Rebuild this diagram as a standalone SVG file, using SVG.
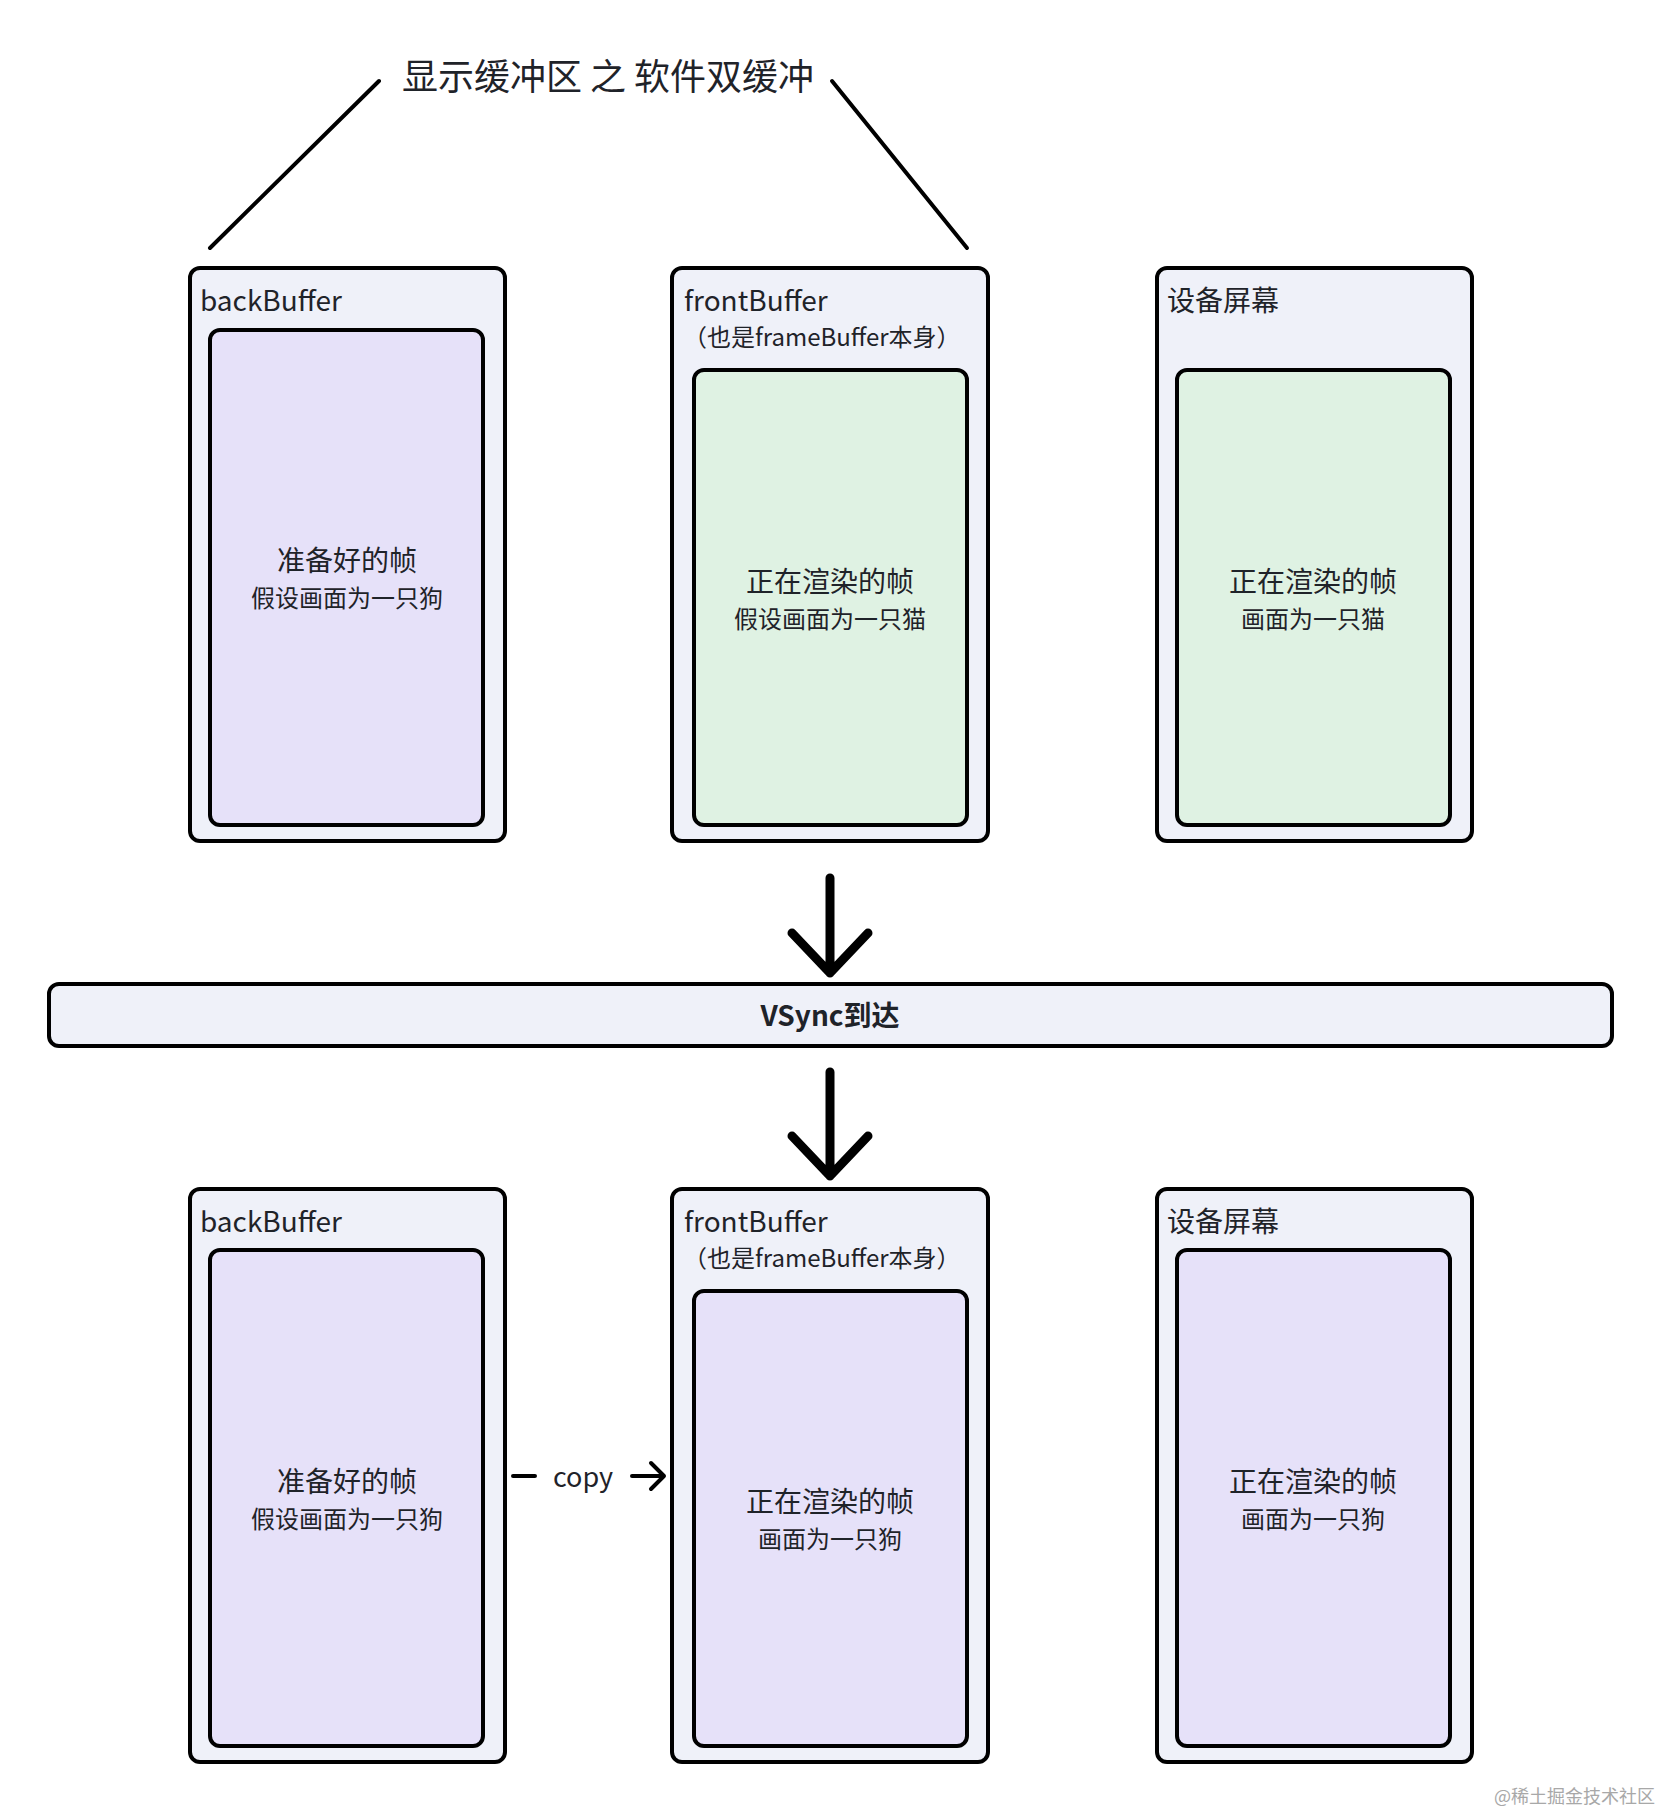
<svg xmlns="http://www.w3.org/2000/svg" width="1662" height="1814" viewBox="0 0 1662 1814">
<style>
text{font-family:"Noto Sans CJK SC","Noto Sans",sans-serif;fill:#1f2329}
.outer{fill:#eff1f9;stroke:#000;stroke-width:4}
.purple{fill:#e6e1f9;stroke:#000;stroke-width:4}
.green{fill:#dff2e3;stroke:#000;stroke-width:4}
.hdr{font-size:28px}
.sub{font-size:24px}
.l1{font-size:28px;text-anchor:middle}
.l2{font-size:24px;text-anchor:middle}
.ln{fill:none;stroke:#000;stroke-width:4;stroke-linecap:round;stroke-linejoin:round}
.big{fill:none;stroke:#000;stroke-width:9;stroke-linecap:round;stroke-linejoin:round}
</style>
<rect width="1662" height="1814" fill="#fff"/>
<g id="title">
<text x="608" y="90" font-size="36" text-anchor="middle">显示缓冲区 之 软件双缓冲</text>
</g>
<g id="connectors">
<line class="ln" x1="379" y1="81" x2="210" y2="248"/>
<line class="ln" x1="832" y1="81" x2="967" y2="248"/>
<path class="big" d="M830 878 V973 M792 933 L830 973 L868 933"/>
<path class="big" d="M830 1072 V1176 M792 1136 L830 1176 L868 1136"/>
<path class="ln" d="M513 1476 H535 M632 1476 H664 M651 1463 L664 1476 L651 1489"/>
<text x="583" y="1487" font-size="27" text-anchor="middle">copy</text>
</g>
<g id="top-back">
<rect class="outer" x="190" y="268" width="315" height="573" rx="10"/>
<text class="hdr" x="200" y="311">backBuffer</text>
<rect class="purple" x="210" y="330" width="273" height="495" rx="10"/>
<text class="l1" x="347" y="571">准备好的帧</text>
<text class="l2" x="347" y="607">假设画面为一只狗</text>
</g>
<g id="top-front">
<rect class="outer" x="672" y="268" width="316" height="573" rx="10"/>
<text class="hdr" x="684" y="311">frontBuffer</text>
<text class="sub" x="683" y="346">（也是frameBuffer本身）</text>
<rect class="green" x="694" y="370" width="273" height="455" rx="10"/>
<text class="l1" x="830" y="592">正在渲染的帧</text>
<text class="l2" x="830" y="628">假设画面为一只猫</text>
</g>
<g id="top-screen">
<rect class="outer" x="1157" y="268" width="315" height="573" rx="10"/>
<text class="hdr" x="1167" y="311">设备屏幕</text>
<rect class="green" x="1177" y="370" width="273" height="455" rx="10"/>
<text class="l1" x="1313" y="592">正在渲染的帧</text>
<text class="l2" x="1313" y="628">画面为一只猫</text>
</g>
<g id="vsync">
<rect class="outer" x="49" y="984" width="1563" height="62" rx="10"/>
<text x="830" y="1026" font-size="28" font-weight="bold" text-anchor="middle">VSync到达</text>
</g>
<g id="bottom-back">
<rect class="outer" x="190" y="1189" width="315" height="573" rx="10"/>
<text class="hdr" x="200" y="1232">backBuffer</text>
<rect class="purple" x="210" y="1250" width="273" height="496" rx="10"/>
<text class="l1" x="347" y="1492">准备好的帧</text>
<text class="l2" x="347" y="1528">假设画面为一只狗</text>
</g>
<g id="bottom-front">
<rect class="outer" x="672" y="1189" width="316" height="573" rx="10"/>
<text class="hdr" x="684" y="1232">frontBuffer</text>
<text class="sub" x="683" y="1267">（也是frameBuffer本身）</text>
<rect class="purple" x="694" y="1291" width="273" height="455" rx="10"/>
<text class="l1" x="830" y="1512">正在渲染的帧</text>
<text class="l2" x="830" y="1548">画面为一只狗</text>
</g>
<g id="bottom-screen">
<rect class="outer" x="1157" y="1189" width="315" height="573" rx="10"/>
<text class="hdr" x="1167" y="1232">设备屏幕</text>
<rect class="purple" x="1177" y="1250" width="273" height="496" rx="10"/>
<text class="l1" x="1313" y="1492">正在渲染的帧</text>
<text class="l2" x="1313" y="1528">画面为一只狗</text>
</g>
<g id="watermark">
<text x="1655" y="1803" font-size="18" text-anchor="end" style="fill:#a8a8a8">@稀土掘金技术社区</text>
</g>
</svg>
